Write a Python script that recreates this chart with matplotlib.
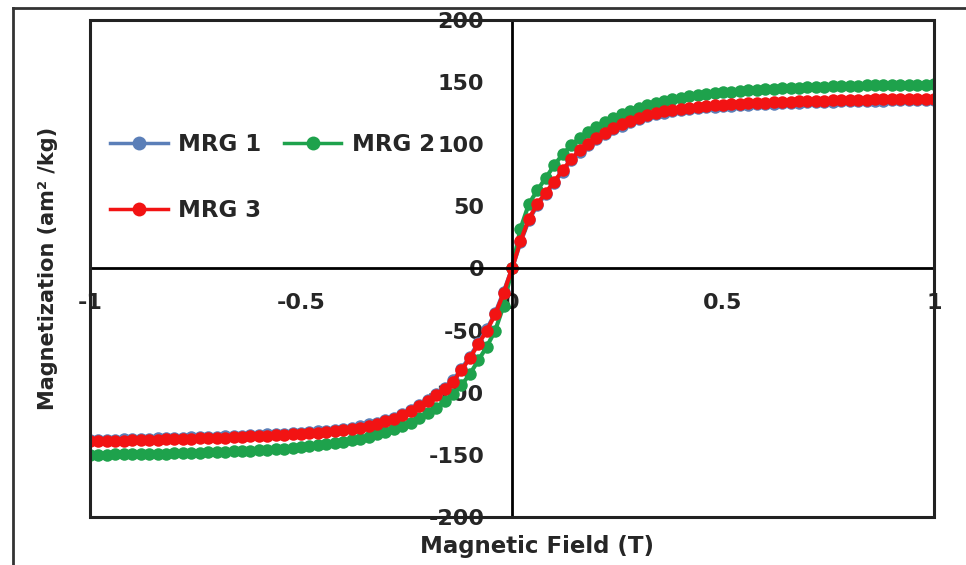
import matplotlib
matplotlib.use("Agg")
import matplotlib.pyplot as plt
from matplotlib.patches import Rectangle
from matplotlib.lines import Line2D

plt.rcParams['font.family'] = ['DejaVu Sans']
plt.rcParams['axes.unicode_minus'] = False

field = [-1.00, -0.98, -0.96, -0.94, -0.92, -0.90, -0.88, -0.86, -0.84, -0.82,
         -0.80, -0.78, -0.76, -0.74, -0.72, -0.70, -0.68, -0.66, -0.64, -0.62,
         -0.60, -0.58, -0.56, -0.54, -0.52, -0.50, -0.48, -0.46, -0.44, -0.42,
         -0.40, -0.38, -0.36, -0.34, -0.32, -0.30, -0.28, -0.26, -0.24, -0.22,
         -0.20, -0.18, -0.16, -0.14, -0.12, -0.10, -0.08, -0.06, -0.04, -0.02,
         0.00,
         0.02, 0.04, 0.06, 0.08, 0.10, 0.12, 0.14, 0.16, 0.18, 0.20,
         0.22, 0.24, 0.26, 0.28, 0.30, 0.32, 0.34, 0.36, 0.38, 0.40,
         0.42, 0.44, 0.46, 0.48, 0.50, 0.52, 0.54, 0.56, 0.58, 0.60,
         0.62, 0.64, 0.66, 0.68, 0.70, 0.72, 0.74, 0.76, 0.78, 0.80,
         0.82, 0.84, 0.86, 0.88, 0.90, 0.92, 0.94, 0.96, 0.98, 1.00]

mrg1 = [-138.2, -138, -137.9, -137.7, -137.5, -137.3, -137.2, -137, -136.8, -136.6,
        -136.4, -136.2, -136, -135.8, -135.6, -135.3, -135.1, -134.8, -134.5, -134.2,
        -133.9, -133.6, -133.3, -132.9, -132.5, -132.1, -131.6, -131.1, -130.5, -129.8,
        -129, -128, -127, -125.5, -124, -122, -120, -117, -114, -110,
        -106, -101, -96, -90, -81, -71, -60, -49, -36, -19,
        0,
        21, 39, 51, 60, 69, 78, 87, 94, 99, 104,
        108, 112, 115, 118, 120.5, 122.5, 124, 125.5, 126.5, 127.5,
        128.3, 129, 129.6, 130.2, 130.7, 131.1, 131.5, 131.8, 132.1, 132.4,
        132.7, 133, 133.3, 133.5, 133.7, 133.9, 134.1, 134.3, 134.5, 134.7,
        134.9, 135, 135.1, 135.2, 135.3, 135.4, 135.5, 135.6, 135.7, 135.8]

mrg2 = [-150, -149.9, -149.8, -149.7, -149.6, -149.5, -149.4, -149.3, -149.2, -149.1,
        -148.9, -148.7, -148.5, -148.3, -148.1, -147.9, -147.6, -147.3, -147, -146.7,
        -146.3, -145.9, -145.4, -144.9, -144.3, -143.7, -143, -142.2, -141.4, -140.5,
        -139.5, -138.3, -137, -135.3, -133.5, -131.5, -129.5, -127, -124, -120.5,
        -116.5, -112, -107, -101, -94, -85, -74, -63, -50, -30,
        0,
        32, 52, 63, 73, 83, 92, 99, 105, 110, 114,
        118, 121.5, 124.5, 127, 129.5, 131.5, 133.3, 135, 136.3, 137.5,
        138.5, 139.4, 140.2, 141, 141.7, 142.3, 142.9, 143.4, 143.9, 144.3,
        144.7, 145, 145.3, 145.6, 145.9, 146.1, 146.3, 146.5, 146.7, 146.9,
        147.1, 147.3, 147.4, 147.5, 147.6, 147.7, 147.8, 147.9, 148, 148.1]

mrg3 = [-139.2, -139, -138.9, -138.7, -138.5, -138.3, -138.2, -138, -137.8, -137.6,
        -137.4, -137.2, -137, -136.8, -136.6, -136.3, -136.1, -135.8, -135.5, -135.2,
        -134.9, -134.6, -134.3, -133.9, -133.5, -133.1, -132.6, -132.1, -131.5, -130.8,
        -130, -129, -128, -126.5, -125, -123, -121, -118, -115, -111,
        -107, -102, -97, -91, -82, -72, -61, -50, -37, -20,
        0,
        22, 40, 52, 61, 70, 79, 88, 95, 100, 105,
        109, 113, 116, 119, 121.5, 123.5, 125, 126.5, 127.5, 128.5,
        129.3, 130, 130.6, 131.2, 131.7, 132.1, 132.5, 132.8, 133.1, 133.4,
        133.7, 134, 134.3, 134.5, 134.7, 134.9, 135.1, 135.3, 135.5, 135.7,
        135.9, 136, 136.1, 136.2, 136.3, 136.4, 136.5, 136.6, 136.7, 136.8]

series_names = ["MRG 1", "MRG 2", "MRG 3"]
series_colors = ["#5B7FB8", "#1EA24C", "#F21313"]

x_ticks = [-1, -0.5, 0, 0.5, 1]
x_tick_labels = ["-1", "-0.5", "0", "0.5", "1"]
y_ticks = [-200, -150, -100, -50, 0, 50, 100, 150, 200]
y_tick_labels = ["-200", "-150", "-100", "-50", "0", "50", "100", "150", "200"]

fig = plt.figure(figsize=(9.66, 5.65), dpi=100)
ax = fig.add_axes([0.0932, 0.085, 0.8737, 0.8796])

handles = []
for vals, name, col in zip([mrg1, mrg2, mrg3], series_names, series_colors):
    ln, = ax.plot(field, vals, color=col, lw=3, marker='o', markersize=9,
                  markeredgewidth=0, label=name, zorder=3)
    handles.append(ln)

ax.set_xlim(-1, 1)
ax.set_ylim(-200, 200)

ax.spines['left'].set_position(('data', 0))
ax.spines['bottom'].set_position(('data', 0))
ax.spines['right'].set_visible(False)
ax.spines['top'].set_visible(False)
for s in ['left', 'bottom']:
    ax.spines[s].set_linewidth(2)
    ax.spines[s].set_color('black')
    ax.spines[s].set_zorder(4)

ax.add_patch(Rectangle((0, 0), 1, 1, transform=ax.transAxes, fill=False,
                       lw=2.2, edgecolor='#222222', zorder=5, clip_on=False))

ax.set_xticks(x_ticks)
ax.set_xticklabels(x_tick_labels)
ax.set_yticks(y_ticks)
ax.set_yticklabels(y_tick_labels)
ax.set_axisbelow(True)
ax.tick_params(axis='both', length=0, labelsize=16)
ax.tick_params(axis='x', pad=18)
ax.tick_params(axis='y', pad=20)
for lab in ax.get_xticklabels() + ax.get_yticklabels():
    lab.set_fontweight('bold')
    lab.set_color('#262626')

# column-wise fill: col1 = MRG 1, MRG 3 ; col2 = MRG 2
leg_order = [0, 2, 1]
leg = ax.legend([handles[i] for i in leg_order], [series_names[i] for i in leg_order],
                loc='upper left', bbox_to_anchor=(0.024, 0.772), ncol=2,
                frameon=False, borderpad=0, borderaxespad=0,
                handlelength=2.5, handletextpad=0.45, columnspacing=1.0,
                labelspacing=1.85, prop={'weight': 'bold', 'size': 16.5})
for h in leg.legend_handles:
    h.set_markersize(10)
    h.set_linewidth(2.5)
for t in leg.get_texts():
    t.set_color('#262626')

fig.text(48 / 966, 1 - 268 / 565, "Magnetization (am² /kg)", rotation=90,
         ha='center', va='center', fontsize=15, fontweight='bold', color='#262626')
fig.text(537 / 966, 1 - 547 / 565, "Magnetic Field (T)", ha='center', va='center',
         fontsize=16.5, fontweight='bold', color='#262626')

fig.add_artist(Line2D([13 / 966, 1.0], [1 - 8 / 565, 1 - 8 / 565],
                      transform=fig.transFigure, color='#333333', lw=2))
fig.add_artist(Line2D([13 / 966, 13 / 966], [0.0, 1 - 8 / 565],
                      transform=fig.transFigure, color='#333333', lw=2))

fig.savefig("out.png", dpi=100)
